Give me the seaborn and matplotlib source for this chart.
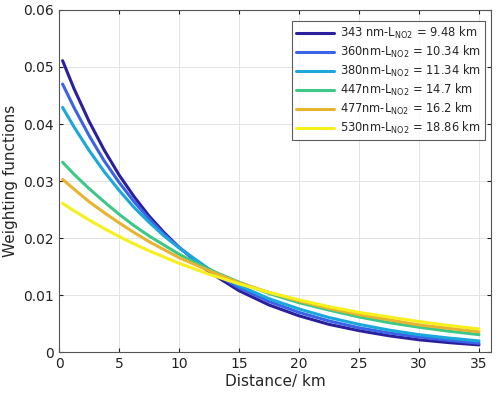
import numpy as np
import pandas as pd
import seaborn as sns
import matplotlib.pyplot as plt

# distances (km) and weighting function values
distance = [0.3, 1.25, 2.5, 3.75, 5, 6.25, 7.5, 8.75, 10, 12.5, 15, 17.5, 20, 22.5, 25, 27.5, 30, 32.5, 35]

w_343 = [0.0511, 0.0462, 0.0405, 0.0355, 0.0311, 0.0273, 0.0239, 0.0210, 0.0184, 0.0141, 0.0108, 0.0083, 0.0064, 0.0049, 0.0038, 0.0029, 0.0022, 0.0017, 0.0013]
w_360 = [0.0470, 0.0429, 0.0380, 0.0336, 0.0298, 0.0264, 0.0234, 0.0207, 0.0184, 0.0144, 0.0113, 0.0089, 0.0070, 0.0055, 0.0043, 0.0034, 0.0027, 0.0021, 0.0016]
w_380 = [0.0429, 0.0395, 0.0354, 0.0317, 0.0284, 0.0254, 0.0228, 0.0204, 0.0183, 0.0146, 0.0117, 0.0094, 0.0076, 0.0061, 0.0049, 0.0039, 0.0031, 0.0025, 0.0020]
w_447 = [0.0333, 0.0312, 0.0287, 0.0264, 0.0242, 0.0222, 0.0204, 0.0188, 0.0172, 0.0145, 0.0123, 0.0103, 0.0087, 0.0074, 0.0062, 0.0052, 0.0044, 0.0037, 0.0031]
w_477 = [0.0303, 0.0286, 0.0264, 0.0245, 0.0227, 0.0210, 0.0194, 0.0180, 0.0166, 0.0143, 0.0122, 0.0105, 0.0090, 0.0077, 0.0066, 0.0057, 0.0048, 0.0042, 0.0036]
w_530 = [0.0261, 0.0248, 0.0232, 0.0217, 0.0203, 0.0190, 0.0178, 0.0167, 0.0156, 0.0137, 0.0120, 0.0105, 0.0092, 0.0080, 0.0070, 0.0062, 0.0054, 0.0047, 0.0041]

labels = [
    r'343 nm-L$_{\mathrm{NO2}}$ = 9.48 km',
    r'360nm-L$_{\mathrm{NO2}}$ = 10.34 km',
    r'380nm-L$_{\mathrm{NO2}}$ = 11.34 km',
    r'447nm-L$_{\mathrm{NO2}}$ = 14.7 km',
    r'477nm-L$_{\mathrm{NO2}}$ = 16.2 km',
    r'530nm-L$_{\mathrm{NO2}}$ = 18.86 km',
]
series = [w_343, w_360, w_380, w_447, w_477, w_530]
colors = ['#2c1f9e', '#3b63e6', '#1aa7dc', '#3cc987', '#e8b430', '#f7f01c']

rows = []
for lab, vals in zip(labels, series):
    for d, v in zip(distance, vals):
        rows.append([d, v, lab])
df = pd.DataFrame(rows, columns=['Distance', 'W', 'Label'])

sns.set_style('whitegrid')
plt.rcParams['font.family'] = ['DejaVu Sans']

fig, ax = plt.subplots(figsize=(5, 3.95), dpi=100)
sns.lineplot(data=df, x='Distance', y='W', hue='Label', palette=colors,
             linewidth=2.2, ax=ax)

ax.set_xlim(0, 36)
ax.set_ylim(0, 0.06)
ax.set_xticks([0, 5, 10, 15, 20, 25, 30, 35])
ax.set_yticks([0, 0.01, 0.02, 0.03, 0.04, 0.05, 0.06])
ax.set_yticklabels(['0', '0.01', '0.02', '0.03', '0.04', '0.05', '0.06'])
ax.grid(True, color='#e3e3e3', linewidth=0.7)
for s in ax.spines.values():
    s.set_color('#555555')
    s.set_linewidth(0.8)
ax.tick_params(direction='in', length=3, labelsize=10, colors='#222222',
               top=True, right=True, bottom=True, left=True)
ax.set_xlabel('Distance/ km', fontsize=11, labelpad=2)
ax.set_ylabel('Weighting functions', fontsize=11)

leg = ax.legend(loc='upper right', bbox_to_anchor=(0.986, 0.968), fontsize=8.3,
                frameon=True, fancybox=False, handlelength=3.3, handletextpad=0.5,
                borderpad=0.35, labelspacing=0.25, borderaxespad=0)
leg.get_frame().set_edgecolor('#333333')
leg.get_frame().set_linewidth(0.8)

plt.subplots_adjust(left=0.118, right=0.982, top=0.975, bottom=0.108)
plt.savefig('out.png')
